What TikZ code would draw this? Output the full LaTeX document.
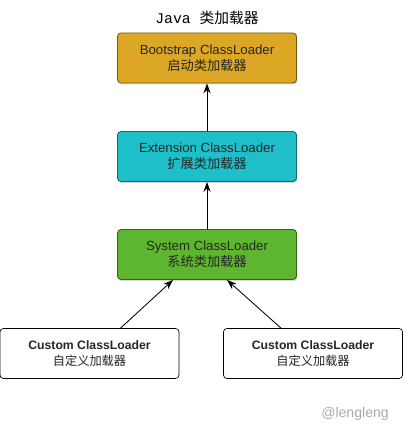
\documentclass[tikz,border=0pt]{standalone}
\usepackage{fontspec}
\setmainfont{Liberation Sans}
\newfontfamily\cjk{Noto Sans CJK SC}
\newfontfamily\javamono{Liberation Mono}
\usetikzlibrary{arrows.meta,shadows}
\definecolor{bootgold}{HTML}{DDA726}
\definecolor{extcyan}{HTML}{1EBFC8}
\definecolor{sysgreen}{HTML}{5EB52F}
\definecolor{marktext}{HTML}{AAAAAA}

\begin{document}
\begin{tikzpicture}[x=0.025cm,y=-0.025cm,line cap=round,line join=round,>={Stealth[length=7pt,width=5pt]},
  loader/.style={rounded corners=2.5pt,minimum width=4.475cm,minimum height=1.25cm,align=center,inner sep=0pt,text=black!85},
  colored/.style={loader,fill=#1,draw=#1!55!black,line width=0.6pt,font={\fontsize{9.4}{11.4}\selectfont},
    drop shadow={opacity=0.3,shadow xshift=0.6pt,shadow yshift=-1pt}},
  custom/.style={loader,draw=black,fill=white,line width=0.5pt,font={\fontsize{8.7}{11.4}\selectfont}}]
  \useasboundingbox (0,0) rectangle (403,431);
  \node (title) at (207,18) {\javamono\fontsize{10.5}{12}\selectfont Java {\cjk 类加载器}};
  \node[colored=bootgold] (boot) at (207,58) {Bootstrap ClassLoader\\{\cjk 启动类加载器}};
  \node[colored=extcyan] (ext) at (207,156.5) {Extension ClassLoader\\{\cjk 扩展类加载器}};
  \node[colored=sysgreen] (sys) at (207,254.5) {System ClassLoader\\{\cjk 系统类加载器}};
  \node[custom] (cleft) at (89.5,353.5) {\bfseries Custom ClassLoader\\{\cjk 自定义加载器}};
  \node[custom] (cright) at (313,353.5) {\bfseries Custom ClassLoader\\{\cjk 自定义加载器}};
  \node[text=marktext,font={\fontsize{10}{12}\selectfont}] (mark) at (355,414) {@lengleng};
  \draw[->,line width=0.6pt] (ext) -- (boot);
  \draw[->,line width=0.6pt] (sys) -- (ext);
  \draw[->,line width=0.6pt] ([xshift=0.775cm]cleft.north) -- ([xshift=-0.85cm]sys.south);
  \draw[->,line width=0.6pt] ([xshift=-0.8cm]cright.north) -- ([xshift=0.5cm]sys.south);
\end{tikzpicture}
\end{document}
